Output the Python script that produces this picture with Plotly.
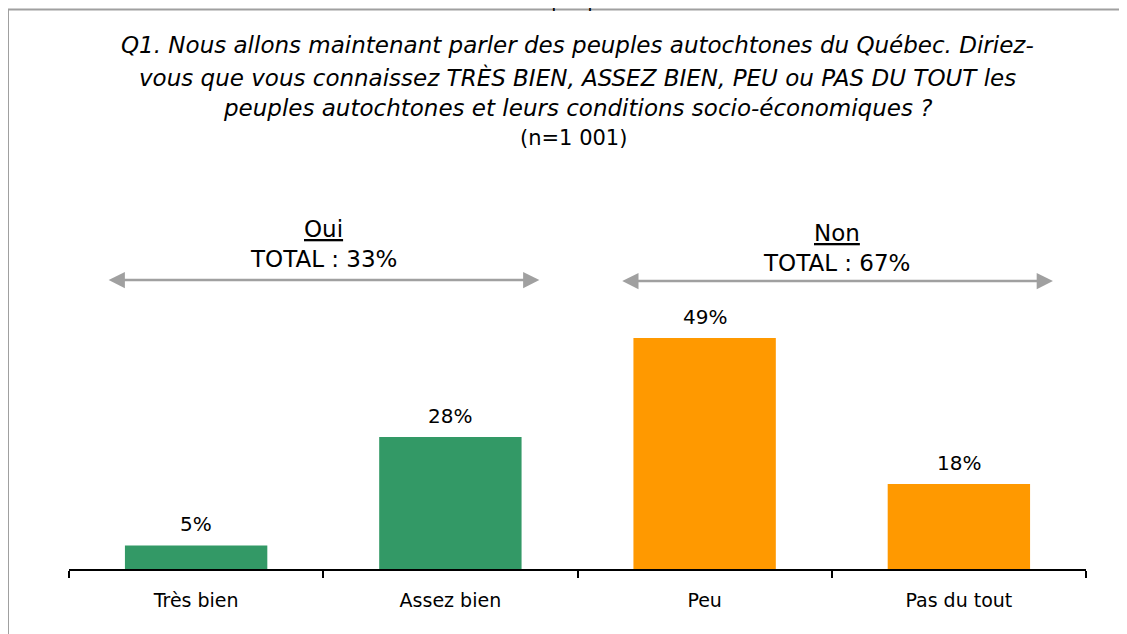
import plotly.graph_objs as go

# Data
categories = ['Très bien', 'Assez bien', 'Peu', 'Pas du tout']
values = [5, 28, 49, 18]
bar_colors = ['#339966', '#339966', '#FF9900', '#FF9900']

group_names = ['Oui', 'Non']
group_totals = [33, 67]
group_spans = [(-0.35, 1.35), (1.67, 3.37)]  # arrow ends in category units

title_lines = [
    "Q1. Nous allons maintenant parler des peuples autochtones du Québec. Diriez-",
    "vous que vous connaissez TRÈS BIEN, ASSEZ BIEN, PEU ou PAS DU TOUT les",
    "peuples autochtones et leurs conditions socio-économiques ?",
]
sample_text = "(n=1 001)"

# Figure geometry (pixels); page body adds an 8px offset
OFF = 8
W, H = 1127 - OFF, 634 - OFF
ML = 69 - OFF
MR = W - (1086 - OFF)
MB = H - (569 - OFF)
MT = 286 - OFF
PW, PH = W - ML - MR, H - MT - MB
FONT = 'DejaVu Sans'


def px(x):
    # screen x -> paper
    return (x - OFF - ML) / PW


def py(y):
    # screen y -> paper
    return (H - MB - (y - OFF)) / PH


bars = go.Bar(
    x=categories,
    y=values,
    marker=dict(color=bar_colors, line=dict(width=0)),
    hoverinfo='x+y'
)

annotations = []

# value labels above bars
for c, v in zip(categories, values):
    annotations.append(dict(
        x=c, y=v, xref='x', yref='y', text=f'{v}%', showarrow=False,
        yanchor='middle', yshift=21, font=dict(family=FONT, size=20, color='black')
    ))

# title lines
title_y = [45, 77, 108]
for line, ty in zip(title_lines, title_y):
    annotations.append(dict(
        x=0.5, y=py(ty), xref='paper', yref='paper', text=f'<i>{line}</i>',
        showarrow=False, xanchor='center', yanchor='middle',
        font=dict(family=FONT, size=23, color='black')
    ))
annotations.append(dict(
    x=px(573), y=py(138), xref='paper', yref='paper', text=sample_text,
    showarrow=False, xanchor='center', yanchor='middle',
    font=dict(family=FONT, size=21, color='black')
))
# chart caption, mostly above the visible page as in the source
annotations.append(dict(
    x=px(575), y=py(0), xref='paper', yref='paper', text='Graphique 1',
    showarrow=False, xanchor='center', yanchor='middle',
    font=dict(family=FONT, size=19, color='black')
))

# group headers + double arrows
head_y = [(229, 259, 280), (233, 263, 281)]
for name, total, (a, b), (y1, y2, ya) in zip(group_names, group_totals, group_spans, head_y):
    mid = (a + b) / 2
    annotations.append(dict(
        x=mid, y=py(y1), xref='x', yref='paper', text=f'<u>{name}</u>',
        showarrow=False, yanchor='middle', font=dict(family=FONT, size=23, color='black')
    ))
    annotations.append(dict(
        x=mid, y=py(y2), xref='x', yref='paper', text=f'TOTAL : {total}%',
        showarrow=False, yanchor='middle', font=dict(family=FONT, size=23, color='black')
    ))
    annotations.append(dict(
        x=b, y=py(ya), xref='x', yref='paper', ax=a, ay=0, axref='x', ayref='pixel',
        text='', showarrow=True, arrowhead=2, arrowside='end+start', arrowsize=1.3,
        arrowwidth=2.5, arrowcolor='#a0a0a0', standoff=0, startstandoff=0
    ))

# frame around the chart
shapes = [
    dict(type='line', xref='paper', yref='paper', x0=px(8), x1=px(1140), y0=py(9.5), y1=py(9.5),
         line=dict(color='#a0a0a0', width=2)),
    dict(type='line', xref='paper', yref='paper', x0=px(8), x1=px(8), y0=py(9.5), y1=py(650),
         line=dict(color='#a0a0a0', width=2)),
]

layout = go.Layout(
    width=W,
    height=H,
    margin=dict(l=ML, r=MR, t=MT, b=MB, pad=0),
    paper_bgcolor='white',
    plot_bgcolor='white',
    showlegend=False,
    bargap=0.44,
    font=dict(family=FONT, color='black'),
    xaxis=dict(
        type='category', showline=True, linecolor='black', linewidth=2,
        ticks='outside', tickson='boundaries', ticklen=7, tickwidth=2, tickcolor='black',
        ticklabelstandoff=13, tickfont=dict(family=FONT, size=19, color='black'),
        showgrid=False, zeroline=False, fixedrange=True
    ),
    yaxis=dict(range=[0, 60], visible=False, fixedrange=True),
    annotations=annotations,
    shapes=shapes
)

fig = go.Figure(data=[bars], layout=layout)
fig.write_html("out.html")
